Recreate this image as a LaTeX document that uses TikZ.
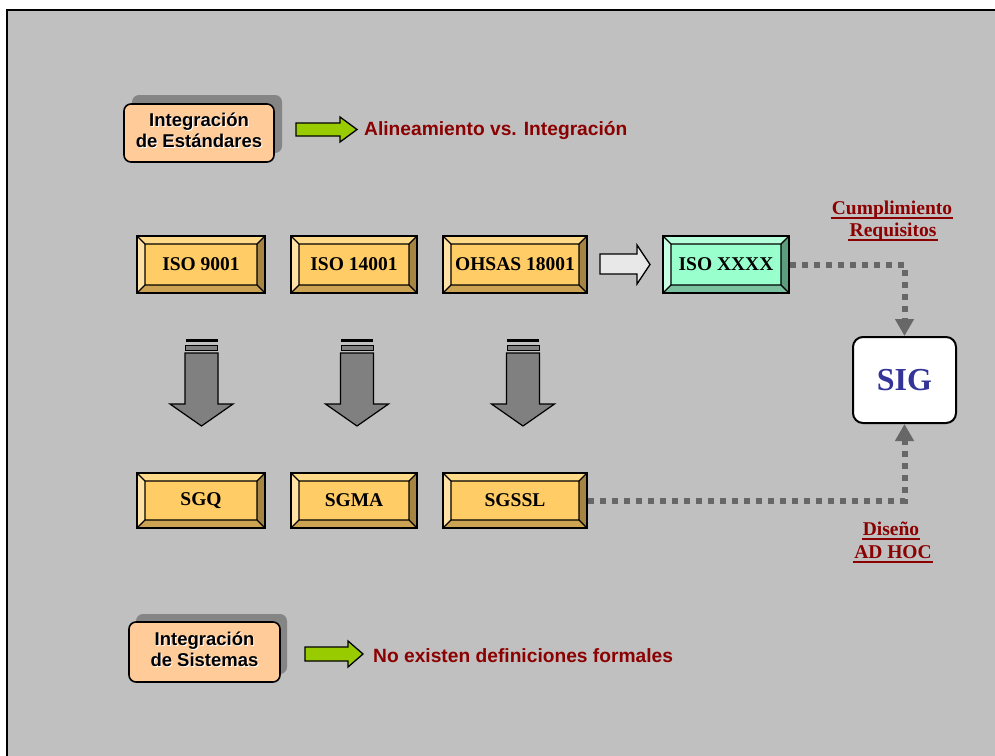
\documentclass[tikz,border=0pt]{standalone}
\usepackage{fontspec}
\setmainfont{Liberation Serif}
\setsansfont{Liberation Sans}
\usetikzlibrary{calc,arrows.meta,shadows}

\definecolor{bgc}{HTML}{C0C0C0}
\definecolor{peach}{HTML}{FFCC99}
\definecolor{shadowc}{HTML}{858585}
\definecolor{dred}{HTML}{8B0000}
\definecolor{lime}{HTML}{99CC00}
\definecolor{sigblue}{HTML}{333399}
\definecolor{dotc}{HTML}{676767}
\definecolor{arrg}{HTML}{808080}
\definecolor{pale}{HTML}{E8E8E8}
% gold bevel box
\definecolor{gface}{HTML}{FFCC66}
\definecolor{gtop}{HTML}{FFDA88}
\definecolor{gleft}{HTML}{FFE2A4}
\definecolor{gright}{HTML}{A68443}
\definecolor{gbot}{HTML}{CCA352}
% green bevel box
\definecolor{mface}{HTML}{99FFCC}
\definecolor{mtop}{HTML}{B5FFDA}
\definecolor{mleft}{HTML}{C6FFE2}
\definecolor{mright}{HTML}{5C9E7E}
\definecolor{mbot}{HTML}{7AC2A0}

% bevelled frame painted inside a node
\newcommand\bevelfill[4]{%
  \coordinate (q1) at (path picture bounding box.north west);
  \coordinate (q2) at (path picture bounding box.north east);
  \coordinate (q3) at (path picture bounding box.south east);
  \coordinate (q4) at (path picture bounding box.south west);
  \coordinate (r1) at ($(q1)+(8pt,-8pt)$);
  \coordinate (r2) at ($(q2)+(-8pt,-8pt)$);
  \coordinate (r3) at ($(q3)+(-8pt,8pt)$);
  \coordinate (r4) at ($(q4)+(8pt,8pt)$);
  \fill[#1] (q1)--(q2)--(r2)--(r1)--cycle;
  \fill[#2] (q1)--(r1)--(r4)--(q4)--cycle;
  \fill[#3] (q2)--(q3)--(r3)--(r2)--cycle;
  \fill[#4] (q4)--(r4)--(r3)--(q3)--cycle;
  \draw[black,line width=1.2pt] (r1) rectangle (r3) (q1)--(r1) (q2)--(r2) (q3)--(r3) (q4)--(r4);
}

% two-line label with a light halo
\newcommand\stacklines[1]{\begin{tabular}{@{}c@{}}#1\end{tabular}}
\newcommand\haloed[1]{\leavevmode\rlap{\kern1pt\raisebox{-1pt}{\color{white}\stacklines{#1}}}\stacklines{#1}}

% striped block arrow pointing down
\newcommand\downblock[1]{%
  \fill[black] (#1-16,339) rectangle (#1+16,342);
  \filldraw[fill=arrg,draw=black,line width=1pt] (#1-16,345) rectangle (#1+16,350);
  \filldraw[fill=arrg,draw=black,line width=1.2pt,line join=miter]
    (#1-16.5,353) -- (#1+16.5,353) -- (#1+16.5,404) -- (#1+31.5,404)
    -- (#1,426) -- (#1-31.5,404) -- (#1-16.5,404) -- cycle;
}

\tikzset{
  x=1pt, y=-1pt,
  bevelbase/.style={draw=black, line width=1.6pt, inner sep=0pt,
    font=\rmfamily\bfseries\fontsize{19.5}{22}\selectfont},
  goldbox/.style={bevelbase, fill=gface,
    path picture={\bevelfill{gtop}{gleft}{gright}{gbot}}},
  mintbox/.style={bevelbase, fill=mface,
    path picture={\bevelfill{mtop}{mleft}{mright}{mbot}}},
  topicbox/.style={draw=black, line width=1.6pt, fill=peach, rounded corners=7pt,
    align=center, inner sep=0pt,
    font=\sffamily\bfseries\fontsize{18.5}{21}\selectfont},
  redtext/.style={text=dred, anchor=west, inner sep=0pt,
    font=\sffamily\bfseries\fontsize{19.2}{22}\selectfont},
  tag/.style={text=dred, anchor=base, inner sep=0pt,
    font=\rmfamily\bfseries\fontsize{19.5}{22}\selectfont},
  tagline/.style={dred, line width=2pt},
  limearrow/.style={fill=lime, draw=black, line width=1.3pt, line join=miter},
  dotlink/.style={dotc, line width=6pt, dash pattern=on 6pt off 6pt,
    -{Triangle[width=18pt,length=17pt]}},
}

\begin{document}
\begin{tikzpicture}
\useasboundingbox (0,0) rectangle (995,755);
\clip (0,0) rectangle (995,755);

% slide background
\fill[bgc] (7,10) rectangle (1010,770);
\draw[black, line width=2.5pt] (7,770) -- (7,10) -- (1010,10);

% topic boxes with their notes
\node[topicbox, minimum width=150pt, minimum height=58pt,
  drop shadow={shadow xshift=8pt, shadow yshift=9pt, fill=shadowc, opacity=1}]
  (est) at (199,133) {\haloed{Integración\\de Estándares}};
\filldraw[limearrow] (296,123) -- (340,123) -- (340,117) -- (357,129.5) -- (340,142) -- (340,136) -- (296,136) -- cycle;
\node[redtext] (alin) at (364,130.5) {Alineamiento vs. Integración};

\node[topicbox, minimum width=151pt, minimum height=60pt,
  drop shadow={shadow xshift=7pt, shadow yshift=8pt, fill=shadowc, opacity=1}]
  (sis) at (204.5,652) {\haloed{Integración\\de Sistemas}};
\filldraw[limearrow] (305,647) -- (348,647) -- (348,641) -- (363,654) -- (348,667) -- (348,661) -- (305,661) -- cycle;
\node[redtext] (noex) at (373,655.5) {No existen definiciones formales};

% standards
\node[goldbox, minimum width=128pt, minimum height=57pt] (iso9) at (201,264.5) {ISO 9001};
\node[goldbox, minimum width=126pt, minimum height=57pt] (iso14) at (354,264.5) {ISO 14001};
\node[goldbox, minimum width=144pt, minimum height=57pt] (ohsas) at (515,264.5) {OHSAS 18001};
\node[mintbox, minimum width=126pt, minimum height=57pt] (isox) at (726,264.5) {ISO XXXX};

% management systems
\node[goldbox, minimum width=128pt, minimum height=55pt] (sgq) at (201,500.5) {SGQ};
\node[goldbox, minimum width=126pt, minimum height=55pt] (sgma) at (354,500.5) {SGMA};
\node[goldbox, minimum width=144pt, minimum height=55pt] (sgssl) at (515,500.5) {SGSSL};

% downward block arrows
\downblock{201.5}
\downblock{357}
\downblock{523}

% hollow arrow towards the generic standard
\filldraw[fill=pale, draw=black, line width=1.3pt, line join=miter]
  (600,254) -- (637,254) -- (637,245) -- (650,264.5) -- (637,284) -- (637,274) -- (600,274) -- cycle;

% integrated system
\node[draw=black, line width=2pt, fill=white, rounded corners=10pt,
  minimum width=103pt, minimum height=86pt, inner sep=0pt,
  text=sigblue, font=\rmfamily\bfseries\fontsize{32}{36}\selectfont] (sig) at (904.5,380) {SIG};

\draw[dotlink] (isox.east) -| (sig.north);
\draw[dotlink] (sgssl.east) -| (sig.south);

% underlined tags
\node[tag] (cum) at (892,214) {Cumplimiento};
\node[tag] (req) at (893,236) {Requisitos};
\node[tag] (dis) at (891,535) {Diseño};
\node[tag] (adh) at (893,558) {AD HOC};
\foreach \t in {cum,req,dis,adh}
  \draw[tagline] ($(\t.base west)+(-1pt,-4pt)$) -- ($(\t.base east)+(1pt,-4pt)$);
\end{tikzpicture}
\end{document}
